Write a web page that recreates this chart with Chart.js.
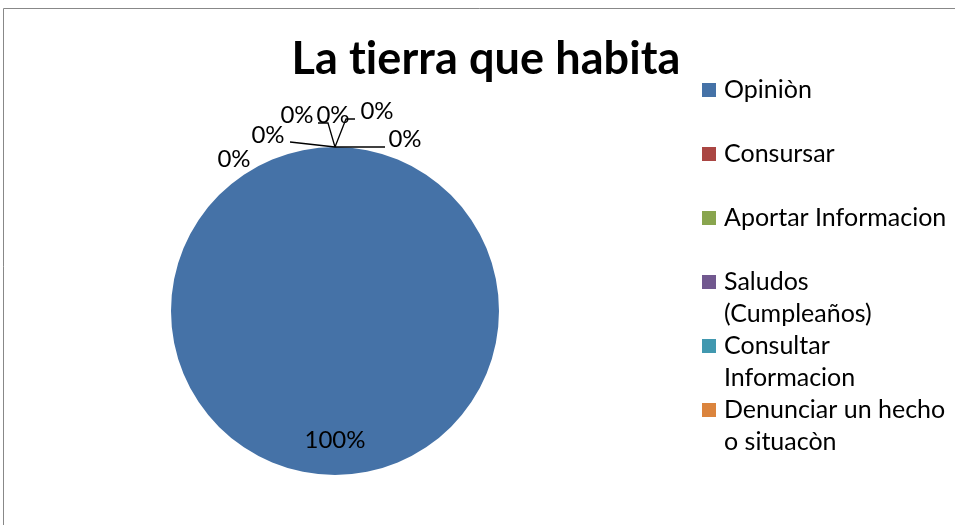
<!DOCTYPE html>
<html><head><meta charset="utf-8">
<script src="https://cdn.jsdelivr.net/npm/chart.js@4/dist/chart.umd.min.js"></script>
<style>html,body{margin:0;padding:0;background:#fff;overflow:hidden}#wrap{position:relative;width:955px;height:525px}</style>
</head><body><div id="wrap"><canvas id="c" width="955" height="525"></canvas></div>
<script>
const chartTitle = "La tierra que habita";
const categories = ["Opiniòn", "Consursar", "Aportar Informacion", ["Saludos", "(Cumpleaños)"], ["Consultar", "Informacion"], ["Denunciar un hecho", "o situacòn"], ""];
const values = [100, 0, 0, 0, 0, 0, 0];
const sliceColors = ["#4572A7", "#AA4643", "#89A54E", "#71588F", "#4198AF", "#DB843D", "#93A9CF"];

const FONT = "Lato, 'Liberation Sans', sans-serif";

// offsets (relative to top of pie) for labels of empty slices, plus leader lines
const zeroLabelLayout = [
  {dx: -67, dy: -12, line: [[-45, -5], [0, 0]]},
  {dx: -38, dy: -32, line: [[-17, -24], [-7, -24], [0, 0]]},
  {dx: -2, dy: -32, line: null},
  {dx: 42, dy: -36, line: [[20, -28], [11, -28], [0, 0]]},
  {dx: 70, dy: -8, line: [[50, 0], [0, 0]]},
  {dx: -101, dy: 12, line: null}
];

const framePlugin = {
  id: 'frame',
  beforeDraw(chart) {
    const ctx = chart.ctx;
    ctx.save();
    ctx.fillStyle = '#fff';
    ctx.fillRect(0, 0, chart.width, chart.height);
    ctx.strokeStyle = '#888888';
    ctx.lineWidth = 1;
    ctx.beginPath();
    ctx.moveTo(3.5, chart.height);
    ctx.lineTo(3.5, 8.5);
    ctx.lineTo(chart.width, 8.5);
    ctx.stroke();
    ctx.restore();
  }
};

const titlePlugin = {
  id: 'customTitle',
  afterDraw(chart) {
    const ctx = chart.ctx;
    ctx.save();
    ctx.fillStyle = '#000';
    ctx.font = "bold 45px " + FONT;
    if ('letterSpacing' in ctx) ctx.letterSpacing = '0.1px';
    ctx.textAlign = 'center';
    ctx.textBaseline = 'alphabetic';
    ctx.fillText(chartTitle, 486, 74);
    ctx.restore();
  }
};

const labelPlugin = {
  id: 'sliceLabels',
  afterDatasetsDraw(chart) {
    const ctx = chart.ctx;
    const meta = chart.getDatasetMeta(0);
    const data = chart.data.datasets[0].data;
    const total = data.reduce((a, b) => a + b, 0);
    ctx.save();
    ctx.font = "24px " + FONT;
    ctx.fillStyle = '#000';
    ctx.strokeStyle = '#000';
    ctx.lineWidth = 1.3;
    ctx.textAlign = 'center';
    ctx.textBaseline = 'middle';
    let z = 0;
    meta.data.forEach((arc, i) => {
      const p = arc.getProps(['x', 'y', 'startAngle', 'endAngle', 'outerRadius'], true);
      const txt = Math.round(data[i] / total * 100) + '%';
      if (data[i] > 0) {
        const mid = (p.startAngle + p.endAngle) / 2;
        const r = p.outerRadius * 0.79;
        ctx.fillText(txt, p.x + Math.cos(mid) * r, p.y + Math.sin(mid) * r);
      } else {
        const L = zeroLabelLayout[z++ % zeroLabelLayout.length];
        const ax = p.x + Math.cos(p.startAngle) * p.outerRadius;
        const ay = p.y + Math.sin(p.startAngle) * p.outerRadius;
        if (L.line) {
          ctx.beginPath();
          L.line.forEach((pt, k) => {
            if (k === 0) ctx.moveTo(ax + pt[0], ay + pt[1]); else ctx.lineTo(ax + pt[0], ay + pt[1]);
          });
          ctx.stroke();
        }
        ctx.fillText(txt, ax + L.dx, ay + L.dy);
      }
    });
    ctx.restore();
  }
};

const legendPlugin = {
  id: 'sideLegend',
  afterDraw(chart) {
    const ctx = chart.ctx;
    const labels = chart.data.labels;
    const colors = chart.data.datasets[0].backgroundColor;
    ctx.save();
    ctx.font = "25px " + FONT;
    ctx.textAlign = 'left';
    ctx.textBaseline = 'middle';
    const top0 = 74, slot = 64, lh = 32;
    labels.forEach((lab, i) => {
      const lines = Array.isArray(lab) ? lab : [lab];
      if (!lines.join('')) return;
      const y = top0 + i * slot;
      ctx.fillStyle = colors[i];
      ctx.fillRect(702, y + lh / 2 - 7, 14, 14);
      ctx.fillStyle = '#000';
      lines.forEach((t, k) => ctx.fillText(t, 724, y + lh / 2 + k * lh));
    });
    ctx.restore();
  }
};

new Chart(document.getElementById('c'), {
  type: 'pie',
  data: {
    labels: categories,
    datasets: [{data: values, backgroundColor: sliceColors, borderWidth: 0}]
  },
  options: {
    responsive: false,
    animation: false,
    devicePixelRatio: 1,
    layout: {padding: {left: 171, right: 456, top: 147, bottom: 50}},
    plugins: {legend: {display: false}, title: {display: false}, tooltip: {enabled: false}}
  },
  plugins: [framePlugin, titlePlugin, labelPlugin, legendPlugin]
});
</script></body></html>
